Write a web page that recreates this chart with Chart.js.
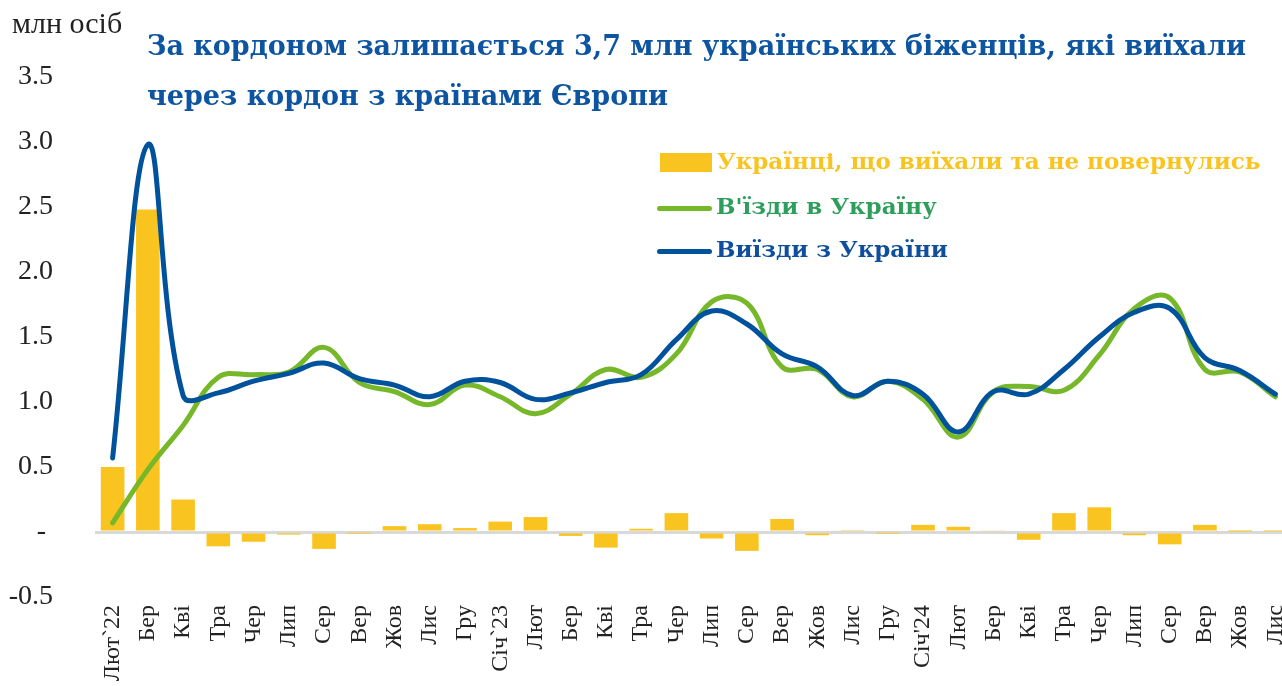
<!DOCTYPE html>
<html>
<head>
<meta charset="utf-8">
<script src="https://cdn.jsdelivr.net/npm/chart.js@4/dist/chart.umd.min.js"></script>
<style>
  html, body { margin: 0; padding: 0; background: #fff; overflow: hidden; }
  #wrap { position: relative; width: 1294px; height: 686px; }
  #c { position: absolute; left: 0; top: 0; }
  .txt { position: absolute; white-space: nowrap; font-family: "DejaVu Serif", serif; }
  #unit { left: 12px; top: 6px; color: #222; font-family: "Liberation Serif", serif; font-size: 30px; }
  #t1 { left: 147px; top: 30px; font-size: 27px; font-weight: bold; color: #0E55A1; }
  #t2 { left: 147px; top: 80px; font-size: 27px; font-weight: bold; color: #0E55A1; }
  .lg { position: absolute; white-space: nowrap; font-family: "DejaVu Serif", serif; font-weight: bold; font-size: 23px; }
  .sw { position: absolute; }
</style>
</head>
<body>
<div id="wrap">
  <canvas id="c" width="1294" height="686"></canvas>
  <div class="txt" id="unit">млн осіб</div>
  <div class="txt" id="t1">За кордоном залишається 3,7 млн українських біженців, які виїхали</div>
  <div class="txt" id="t2">через кордон з країнами Європи</div>
  <div class="sw" style="left:660px;top:153px;width:52px;height:19px;background:#F9C41F"></div>
  <div class="lg" style="left:717px;top:147px;color:#F9C41F">Українці, що виїхали та не повернулись</div>
  <div class="sw" style="left:657px;top:206px;width:55px;height:5px;border-radius:3px;background:#76B82A"></div>
  <div class="lg" style="left:716px;top:192px;color:#2E9E5C">В'їзди в Україну</div>
  <div class="sw" style="left:657px;top:249px;width:55px;height:5px;border-radius:3px;background:#00529C"></div>
  <div class="lg" style="left:716px;top:235px;color:#0E4E9C">Виїзди з України</div>
</div>
<script>
const categories = ["Лют`22","Бер","Кві","Тра","Чер","Лип","Сер","Вер","Жов","Лис","Гру",
  "Січ`23","Лют","Бер","Кві","Тра","Чер","Лип","Сер","Вер","Жов","Лис","Гру",
  "Січ'24","Лют","Бер","Кві","Тра","Чер","Лип","Сер","Вер","Жов","Лис"];

const notReturned = [0.50, 2.48, 0.25, -0.11, -0.075, -0.02, -0.13, -0.005, 0.045, 0.06, 0.03,
  0.08, 0.115, -0.03, -0.12, 0.025, 0.145, -0.05, -0.145, 0.10, -0.025, 0.015, -0.005,
  0.055, 0.04, 0.01, -0.06, 0.145, 0.19, -0.025, -0.095, 0.055, 0.003, 0.005];

const entries = [0.07, 0.48, 0.82, 1.19, 1.21, 1.23, 1.42, 1.15, 1.08, 0.98, 1.13,
  1.04, 0.91, 1.06, 1.25, 1.19, 1.37, 1.77, 1.76, 1.27, 1.25, 1.04, 1.16,
  1.02, 0.73, 1.08, 1.12, 1.09, 1.36, 1.72, 1.80, 1.25, 1.23, 1.04];

const exits = [0.57, 2.98, 1.05, 1.07, 1.16, 1.22, 1.30, 1.18, 1.13, 1.04, 1.16,
  1.15, 1.02, 1.07, 1.15, 1.21, 1.48, 1.70, 1.60, 1.37, 1.27, 1.05, 1.16,
  1.06, 0.77, 1.08, 1.06, 1.25, 1.50, 1.69, 1.72, 1.34, 1.24, 1.06];

const yTicks = [-0.5, 0, 0.5, 1.0, 1.5, 2.0, 2.5, 3.0, 3.5];

new Chart(document.getElementById('c'), {
  type: 'bar',
  data: {
    labels: categories,
    datasets: [
      { type: 'line', label: 'Виїзди з України', data: exits, borderColor: '#00529C',
        borderWidth: 5, pointRadius: 0, tension: 0.4, fill: false, order: 0, borderCapStyle: 'round' },
      { type: 'line', label: "В'їзди в Україну", data: entries, borderColor: '#76B82A',
        borderWidth: 5, pointRadius: 0, tension: 0.4, fill: false, order: 1, borderCapStyle: 'round' },
      { type: 'bar', label: 'Українці, що виїхали та не повернулись', data: notReturned,
        backgroundColor: '#F9C41F', barPercentage: 0.67, categoryPercentage: 1.0, order: 2 }
    ]
  },
  options: {
    responsive: false,
    animation: false,
    layout: { padding: { top: 77, right: 1, left: 0, bottom: 0 } },
    plugins: { legend: { display: false }, tooltip: { enabled: false } },
    scales: {
      x: {
        grid: { display: false, drawTicks: false },
        border: { display: false },
        ticks: {
          autoSkip: false, maxRotation: 90, minRotation: 90, padding: 8,
          color: '#222', font: { family: '"Liberation Serif", serif', size: 24 }
        },
        afterFit: (s) => { s.height = 89; s.paddingLeft = 0; s.paddingRight = 0; }
      },
      y: {
        min: -0.5, max: 3.5,
        afterBuildTicks: (s) => { s.ticks = yTicks.map(v => ({ value: v })); },
        grid: {
          drawTicks: false,
          color: (ctx) => ctx.tick && ctx.tick.value === 0 ? '#D9D9D9' : 'rgba(0,0,0,0)',
          lineWidth: (ctx) => ctx.tick && ctx.tick.value === 0 ? 3 : 0
        },
        border: { display: false },
        ticks: {
          padding: 42, color: '#222',
          font: { family: '"Liberation Serif", serif', size: 28 },
          callback: (v) => v === 0 ? '- ' : Number(v).toFixed(1)
        },
        afterFit: (s) => { s.width = 95; }
      }
    }
  }
});
</script>
</body>
</html>
